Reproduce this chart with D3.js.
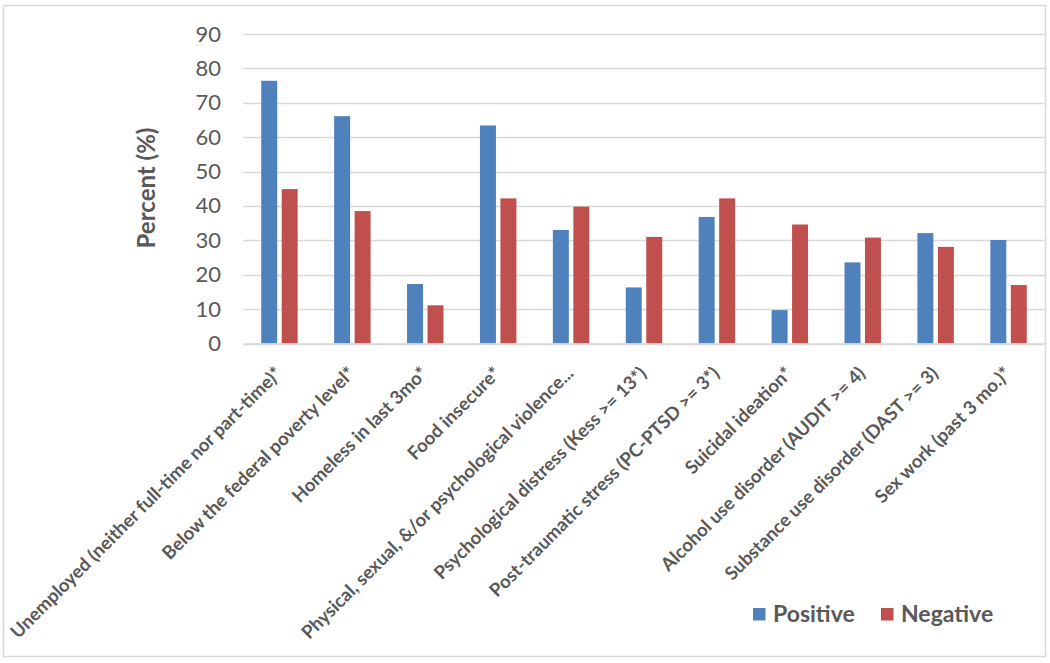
<!DOCTYPE html>
<html>
<head>
<meta charset="utf-8">
<script src="https://cdn.jsdelivr.net/npm/d3@7"></script>
<style>
  html, body { margin: 0; padding: 0; background: #fff; }
  svg { display: block; }
</style>
</head>
<body>
<svg id="chart" width="1050" height="663"></svg>
<script>
const categories = [
  "Unemployed (neither full-time nor part-time)*",
  "Below the federal poverty level*",
  "Homeless in last 3mo*",
  "Food insecure*",
  "Physical, sexual, &/or psychological violence...",
  "Psychological distress (Kess >= 13*)",
  "Post-traumatic stress (PC-PTSD >= 3*)",
  "Suicidal ideation*",
  "Alcohol use disorder (AUDIT >= 4)",
  "Substance use disorder (DAST >= 3)",
  "Sex work (past 3 mo.)*"
];
const seriesNames = ["Positive", "Negative"];
const positiveValues = [76.4, 66.1, 17.3, 63.4, 33.0, 16.3, 36.8, 9.7, 23.6, 32.1, 30.1];
const negativeValues = [44.9, 38.5, 11.1, 42.2, 39.8, 31.0, 42.2, 34.6, 30.8, 28.1, 17.0];
const yTicks = [0, 10, 20, 30, 40, 50, 60, 70, 80, 90];
const yTitle = "Percent (%)";
const colors = ["#4f81bd", "#c0504d"];

const svg = d3.select("#chart");
const textColor = "#595959";
const gridColor = "#d9d9d9";
const font = "Lato, 'Open Sans', sans-serif";

// outer border
svg.append("rect")
  .attr("x", 3.5).attr("y", 5.5)
  .attr("width", 1042).attr("height", 651)
  .attr("fill", "#fff").attr("stroke", gridColor).attr("stroke-width", 1.5);

const plotLeft = 243, plotRight = 1045, plotTop = 34, plotBottom = 343.5;

const x = d3.scaleBand().domain(categories).range([plotLeft, plotRight])
  .paddingInner(0.5).paddingOuter(0.25);
const xs = d3.scaleBand().domain(seriesNames).range([0, x.bandwidth()]).paddingInner(0.22);
const y = d3.scaleLinear().domain([0, 90]).range([plotBottom, plotTop]);

// gridlines
svg.append("g").selectAll("line").data(yTicks).join("line")
  .attr("x1", plotLeft).attr("x2", plotRight)
  .attr("y1", d => Math.round(y(d)) + 0.5).attr("y2", d => Math.round(y(d)) + 0.5)
  .attr("stroke", gridColor).attr("stroke-width", 1.3);

// y axis labels
const yAxis = d3.axisLeft(y).tickValues(yTicks).tickSize(0).tickPadding(0);
const yg = svg.append("g").attr("transform", `translate(${221},0)`).call(yAxis);
yg.select(".domain").remove();
yg.selectAll("text")
  .attr("fill", textColor)
  .style("font-family", font)
  .style("font-size", "22px");

// bars
const series = [positiveValues, negativeValues];
const groups = svg.append("g").selectAll("g").data(seriesNames).join("g")
  .attr("fill", (d, i) => colors[i]);
groups.selectAll("rect").data((s, i) => categories.map((c, j) => ({c, s, v: series[i][j]})))
  .join("rect")
  .attr("x", d => x(d.c) + xs(d.s))
  .attr("width", xs.bandwidth())
  .attr("y", d => y(d.v))
  .attr("height", d => y(0) - y(d.v));

// x axis labels
const xAxis = d3.axisBottom(x).tickSize(0).tickPadding(0);
const xg = svg.append("g").attr("transform", `translate(0,${plotBottom})`).call(xAxis);
xg.select(".domain").attr("stroke", gridColor).attr("stroke-width", 1.3);
xg.selectAll("text")
  .attr("fill", textColor)
  .style("font-family", font)
  .style("font-size", "18.5px")
  .style("font-weight", "bold")
  .attr("text-anchor", "end")
  .attr("y", 0).attr("dy", "0.75em").attr("dx", "-0.4em")
  .attr("transform", "translate(-1,16) rotate(-45)");

// y title
svg.append("text")
  .attr("transform", `translate(155,188) rotate(-90)`)
  .attr("text-anchor", "middle")
  .attr("fill", textColor)
  .style("font-family", font)
  .style("font-size", "24px")
  .style("font-weight", "bold")
  .text(yTitle);

// legend
const legendX = [753, 881];
const lg = svg.append("g").selectAll("g").data(seriesNames).join("g")
  .attr("transform", (d, i) => `translate(${legendX[i]},608)`);
lg.append("rect").attr("width", 12.5).attr("height", 12.5).attr("fill", (d, i) => colors[i]);
lg.append("text").attr("x", 20).attr("y", 14)
  .attr("fill", textColor)
  .style("font-family", font)
  .style("font-size", "23px")
  .style("font-weight", "bold")
  .text(d => d);
</script>
</body>
</html>
